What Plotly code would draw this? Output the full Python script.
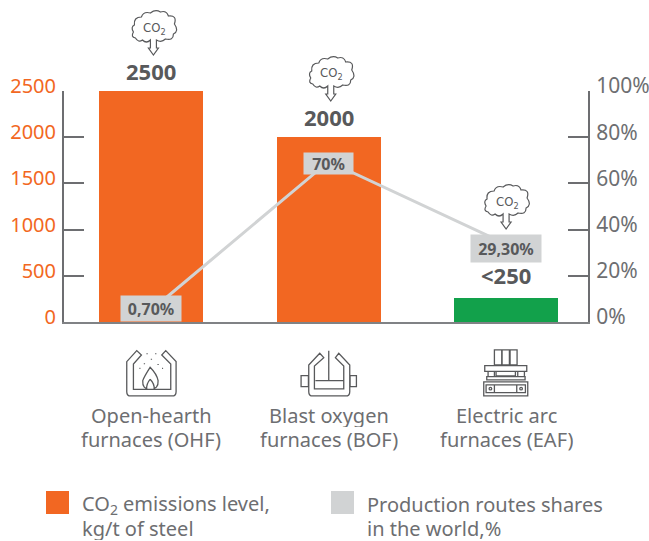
import re
import plotly.graph_objects as go

categories = [["Open-hearth", "furnaces (OHF)"], ["Blast oxygen", "furnaces (BOF)"], ["Electric arc", "furnaces (EAF)"]]
positions = [0, 1, 2]
co2_levels = [2500, 2000, 255]
co2_labels = ["2500", "2000", "&lt;250"]
bar_colors = ["#f26722", "#f26722", "#12a14b"]
share_line_levels = [5.2, 69.5, 33.7]
share_labels = ["0,70%", "70%", "29,30%"]
left_ticks = [0, 500, 1000, 1500, 2000, 2500]
right_ticks = [0, 20, 40, 60, 80, 100]
right_ticktext = ["0%", "20%", "40%", "60%", "80%", "100%"]
legend_left = ["CO<sub>2</sub> emissions level,", "kg/t of steel"]
legend_right = ["Production routes shares", "in the world,%"]

W, H = 649, 541
L, R, T, B = 64, 588, 91, 322
FONT = "Noto Sans"
DARK = "#58595b"
GREY = "#6d6e71"
ORANGE = "#f26722"
BOX = "#d1d3d4"


def px(x):
    return (x - L) / (R - L)


def py(y):
    return (B - y) / (B - T)


def rect(a, b, c, d):
    return f"M{a} {b} L{c} {b} L{c} {d} L{a} {d} Z "


def circ(a, b, r):
    return (f"M{a-r} {b} Q{a-r} {b-r} {a} {b-r} Q{a+r} {b-r} {a+r} {b} "
            f"Q{a+r} {b+r} {a} {b+r} Q{a-r} {b+r} {a-r} {b} Z ")


def scaled(path, ox, oy, s=1 / 3):
    """Convert an icon outline (local units, y down) to anchor-relative pixels (y up)."""
    out, idx = [], 0
    for tok in re.findall(r"[A-Za-z]|-?\d+\.?\d*", path):
        if tok.isalpha():
            out.append(tok)
        else:
            v = float(tok)
            if idx % 2 == 0:
                out.append(f"{(v - ox) * s:.2f}")
            else:
                out.append(f"{-(v - oy) * s:.2f}")
            idx += 1
    return " ".join(out)


CLOUD = ("M-3 30 Q-7 34 -11 30 Q-15 33 -18 28 Q-23 27 -20 22 Q-23 17 -19 15 Q-20 7 -12 7 "
         "Q-10 1 -3 3 Q2 -1 7 2 Q13 0 15 6 Q24 5 21 14 Q26 21 20 24 Q20 31 12 29 Q8 33 3 30 "
         "L3 38 L5 38 L0 45 L-5 38 L-3 38 Z")

OHF = ("M228 182 L198 215 L198 305 Q198 318 210 318 L334 318 Q346 318 346 305 L346 215 L315 182 "
       "L303 195 L330 222 L330 298 L218 298 L218 222 L242 195 Z "
       "M268 232 Q250 260 246 272 Q244 298 268 298 Q294 298 292 272 Q288 252 268 232 Z "
       "M268 268 Q256 282 258 298 M268 268 Q282 282 280 298 "
       "M259 190 L259 193 M285 190 L285 193 M272 206 L272 209 M251 220 L251 223 M292 222 L292 225 "
       "M236 235 L239 235 M304 235 L307 235")

BOF = ("M778 190 L745 225 L745 305 Q745 318 757 318 L856 318 Q868 318 868 305 L868 225 L835 190 "
       "L825 203 L850 228 L850 297 L762 297 L762 228 L790 203 Z "
       "M805 182 L805 272 M765 272 L848 272 " +
       rect(722, 257, 744, 290) + rect(869, 257, 888, 290))

EAF = (rect(435, 60, 457, 105) + rect(458, 60, 480, 105) + rect(482, 60, 503, 105) +
       rect(406, 107, 532, 124) + rect(416, 124, 435, 140) + rect(505, 124, 525, 140) +
       rect(440, 124, 498, 138) + rect(412, 140, 527, 150) + rect(403, 156, 535, 198) +
       rect(410, 165, 528, 188) + rect(435, 165, 502, 188) + circ(423, 176, 4) + circ(515, 176, 4))

fig = go.Figure()
fig.add_trace(go.Bar(
    x=positions, y=co2_levels, width=0.586, marker=dict(color=bar_colors, line_width=0),
    name="CO2 emissions level, kg/t of steel", showlegend=False, hoverinfo="skip",
))
fig.add_trace(go.Scatter(
    x=positions, y=share_line_levels, yaxis="y2", mode="lines",
    line=dict(color=BOX, width=3), name="Production routes shares in the world, %",
    showlegend=False, hoverinfo="skip",
))

annotations = []
shapes = []

# value labels above the bars
label_shift = [3, 3, 6]
for x, v, t, s in zip(positions, co2_levels, co2_labels, label_shift):
    annotations.append(dict(x=x, y=v, xref="x", yref="y", text=f"<b>{t}</b>", showarrow=False,
                            yanchor="bottom", yshift=s, font=dict(family=FONT, size=22, color=DARK)))

# share labels
box_w = [60, 49, 70]
box_h = [25, 21, 27]
box_shift = [1, -2, -4.5]
for x, v, t, w, h, s in zip(positions, share_line_levels, share_labels, box_w, box_h, box_shift):
    annotations.append(dict(x=x, y=v, xref="x", yref="y2", text=f"<b>{t}</b>", showarrow=False,
                            width=w, height=h, bgcolor=BOX, borderpad=0, yshift=s,
                            font=dict(family=FONT, size=16, color=DARK)))

# CO2 clouds
cloud_x = [(153 - 151) / 177.5, 1 + (330 - 328) / 177.5, 2.0]
cloud_top = [10, 56, 184]
for cx, top in zip(cloud_x, cloud_top):
    shapes.append(dict(type="path", xref="x", yref="paper", xsizemode="pixel", ysizemode="pixel",
                       xanchor=cx, yanchor=py(top), path=scaled(CLOUD, 0, 0, 1),
                       line=dict(color=DARK, width=1.2)))
    annotations.append(dict(x=cx, y=py(top + 18), xref="x", yref="paper", xanchor="center", yanchor="middle",
                            showarrow=False, text="CO<sub>2</sub>", xshift=1,
                            font=dict(family="DejaVu Sans Condensed, Liberation Sans", size=13, color=DARK)))

# furnace icons and category names, one under each category
for x, path, ox, oy in zip(positions, [OHF, BOF, EAF], [272, 805, 470], [250, 250, 130]):
    shapes.append(dict(type="path", xref="x", yref="paper", xsizemode="pixel", ysizemode="pixel",
                       xanchor=x, yanchor=py(373.3), path=scaled(path, ox, oy),
                       line=dict(color=DARK, width=1.3)))
for x, lines in zip(positions, categories):
    for line, y in zip(lines, [415, 439]):
        annotations.append(dict(x=x, y=py(y), xref="x", yref="paper", xanchor="center", yanchor="middle",
                                showarrow=False, text=line, height=23, borderpad=0,
                                font=dict(family=FONT, size=20, color=GREY)))

# legend
for x0, color in [(46, ORANGE), (331, BOX)]:
    shapes.append(dict(type="rect", xref="paper", yref="paper", x0=px(x0), x1=px(x0 + 23),
                       y0=py(514), y1=py(491), fillcolor=color, line_width=0))
for x0, lines in [(81, legend_left), (366, legend_right)]:
    for line, y in zip(lines, [504, 528]):
        annotations.append(dict(x=px(x0), y=py(y), xref="paper", yref="paper", xanchor="left", yanchor="middle",
                                align="left", showarrow=False, text=line, height=23, borderpad=0,
                                font=dict(family=FONT, size=20, color=GREY)))

fig.update_layout(
    width=W, height=H, autosize=False, paper_bgcolor="white", plot_bgcolor="white",
    margin=dict(l=L, r=W - R, t=T, b=H - B, pad=0, autoexpand=False), bargap=0, showlegend=False,
    xaxis=dict(range=[-0.493, 2.462], tickvals=positions, showticklabels=False, ticks="",
               showgrid=False, zeroline=False, showline=True, linecolor="#808285", linewidth=2),
    yaxis=dict(range=[0, 2500], tickvals=left_ticks, ticks="inside", ticklen=20, tickwidth=2,
               tickcolor=GREY, showgrid=False, zeroline=False, showline=True, linecolor=GREY, linewidth=2,
               ticklabelstandoff=2, ticklabelshift=-5, tickfont=dict(family=FONT, size=20, color=ORANGE)),
    yaxis2=dict(range=[0, 100], overlaying="y", side="right", tickvals=right_ticks, ticktext=right_ticktext,
                ticks="inside", ticklen=20, tickwidth=2, tickcolor=GREY, showgrid=False, zeroline=False,
                showline=True, linecolor=GREY, linewidth=2, ticklabelstandoff=2, ticklabelshift=-5,
                tickfont=dict(family=FONT, size=21, color=GREY)),
    annotations=annotations, shapes=shapes,
)

fig.write_html("out.html", post_script="document.body.style.margin='0';", config=dict(displayModeBar=False))
